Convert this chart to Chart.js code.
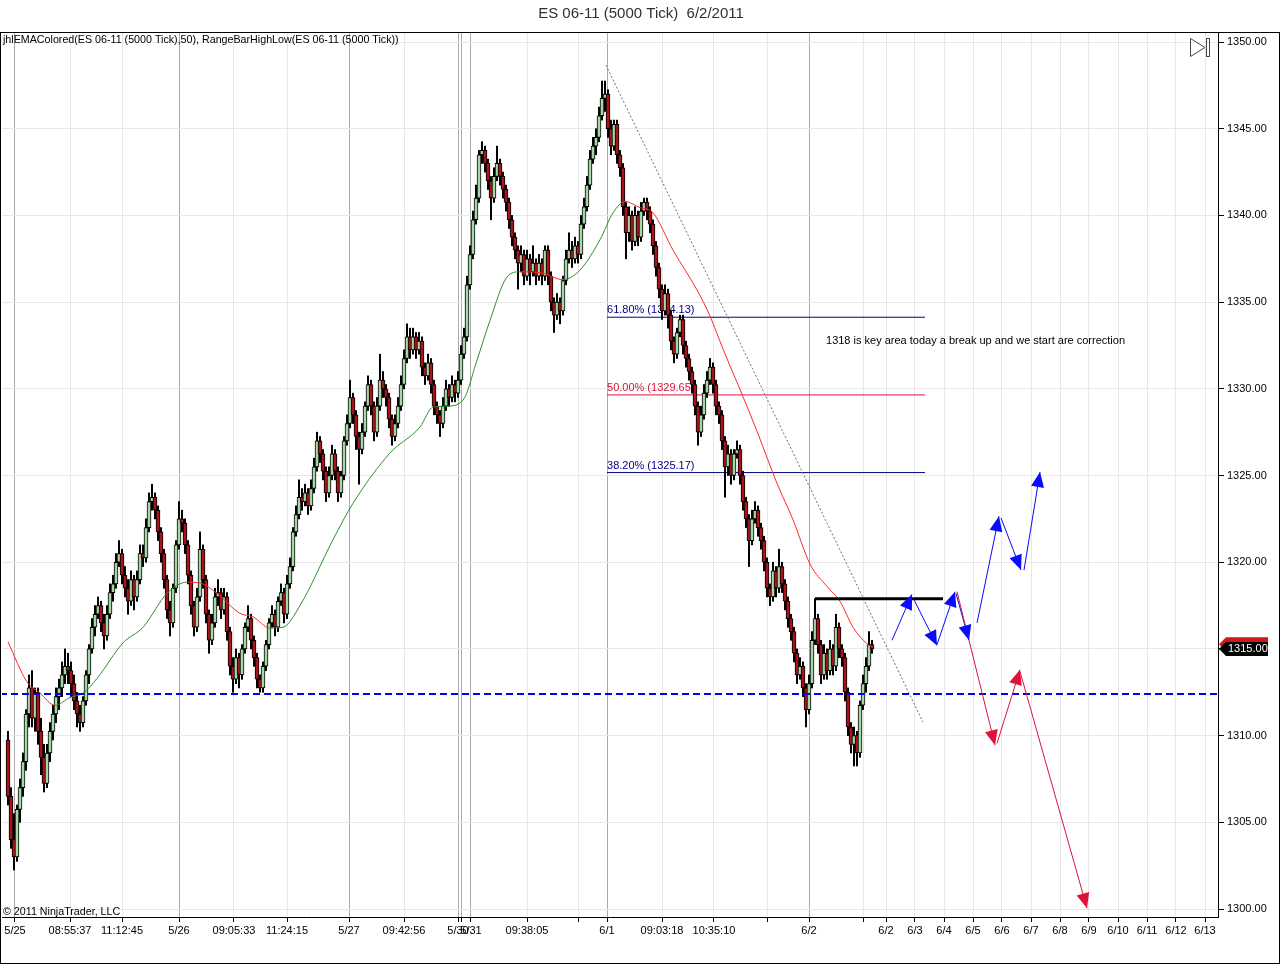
<!DOCTYPE html>
<html><head><meta charset="utf-8">
<script src="https://cdn.jsdelivr.net/npm/chart.js@4.4.1/dist/chart.umd.min.js"></script>
<style>html,body{margin:0;padding:0;background:#fff;}canvas{display:block;}</style>
</head><body>
<canvas id="c" width="1280" height="965"></canvas>
<script>
// ---------- DATA ----------
const opens = [
1309.75,1306.5,1304,1303,1305.75,1307,1308.5,1311.25,1312.75,1311,1312.5,1310.25,1308.75,1307.25,1309,1310.25,1311.25,1312.25,1312.75,1313.5,
1314,1313.75,1313,1312,1311.25,1310.75,1312,1313.5,1315,1316.25,1317,1317.5,1316.5,1315.75,1317,1318.25,1318.75,1320,1320.5,1319.25,
1318.5,1317.75,1319,1318,1319,1320.5,1320.25,1322,1323.5,1323.75,1323,1321.75,1320.5,1319,1317.25,1316.5,1318.5,1321,1322.5,1322.25,
1321,1319.25,1317.5,1316.25,1318,1320.75,1319,1317,1315.5,1316.5,1318,1318.25,1317.25,1318,1316,1314,1313.25,1314.5,1313.5,1315,
1316.25,1316.75,1315.5,1314.5,1313.25,1312.75,1314,1315.25,1316.5,1317,1316.25,1317.75,1318.25,1317,1318.75,1319.75,1321.75,1322.75,1323.75,1323.5,
1324,1323.25,1324.25,1325.5,1327,1326.25,1325.25,1324,1325,1326.25,1325.25,1324,1325,1327,1328,1329.5,1328.5,1327.25,1326.5,1327.5,
1329,1330.25,1329,1327.5,1329,1330.5,1330,1329.5,1328.25,1327.25,1328,1329,1330.25,1331.75,1333,1332.25,1333,1332.25,1332.75,1331.25,
1330.75,1331.5,1330.25,1329,1328.5,1328,1329,1330,1329.5,1330.25,1329.75,1330.5,1332,1333,1336,1337.75,1339.75,1341,1343.5,1343.75,
1343,1342,1341,1342.25,1343,1342.25,1341.5,1340.75,1339.75,1338.75,1338,1337.25,1337.75,1336.5,1337.5,1336.75,1337.25,1336.5,1337.25,1336.5,
1338,1336.5,1335,1334.25,1335,1334.5,1336.25,1337.5,1338,1337.5,1338.25,1337.75,1339.5,1340.5,1341.75,1343.25,1344,1344.5,1345.75,1346.75,
1347,1345,1344,1345.25,1343.5,1342.75,1340.5,1339,1340,1338.5,1340,1338.75,1340.25,1340.75,1340.25,1339.5,1338.25,1337,1335.75,1334.5,
1335.5,1334.25,1332.75,1332,1333.25,1334,1332.5,1331.75,1331,1330.25,1329,1327.5,1328.5,1329.75,1330.5,1331.25,1330.25,1329,1328.5,1327,
1325.5,1326.25,1325,1326.25,1326.5,1325,1323.5,1322.5,1321.25,1322.5,1323,1322,1321.25,1320,1318.5,1318,1319.5,1318.5,1319.75,1318.75,
1317.75,1316.75,1316,1314.75,1313.5,1314,1312.75,1311.5,1313,1315.5,1316.75,1315.25,1313.5,1314.75,1313.75,1315,1314,1316.25,1315,1314.5,
1312.5,1310.5,1309.5,1310,1309,1311.75,1313,1314,1315.25];
const highs = [
1310.25,1307,1305.5,1306,1307.5,1309,1311.5,1313.5,1313.75,1312.75,1312.75,1311,1309.5,1309.5,1310.75,1311.75,1312.75,1313.25,1314.25,1315,
1314.75,1314.25,1313.5,1312.5,1311.75,1312.25,1313.75,1315.25,1316.75,1317.5,1318,1317.75,1317,1317.5,1318.75,1319.25,1320.5,1321.25,1320.75,1319.75,
1319,1319.5,1319.25,1319.5,1321,1321,1322.5,1324,1324.5,1324,1323.25,1322,1320.75,1319.25,1317.75,1318.75,1321.25,1323.5,1323,1322.5,
1321.25,1319.5,1317.75,1318.5,1321.75,1321,1319.25,1317.25,1317,1318.5,1319,1318.5,1318.5,1318.25,1316.25,1314.5,1315,1314.75,1315.25,1316.5,
1317.5,1317,1315.75,1314.75,1313.5,1314.25,1315.5,1316.75,1317.5,1317.25,1318,1318.75,1318.5,1319.25,1320.25,1322,1323.25,1324.75,1324.25,1324.5,
1324.25,1324.75,1326,1327.5,1327.25,1326.5,1325.5,1325.5,1326.75,1326.5,1325.5,1325.25,1327.25,1328.5,1330.5,1329.75,1328.75,1327.5,1328,1329.25,
1330.75,1330.5,1329.25,1329.5,1332,1331,1330.25,1329.75,1328.5,1328.5,1329.5,1330.75,1332.25,1333.75,1333.5,1333.5,1333.25,1333.25,1333,1331.5,
1332,1331.75,1330.5,1329.25,1328.75,1329.5,1330.5,1330.25,1330.75,1330.5,1331,1332.5,1333.5,1336.5,1338.25,1340.25,1341.75,1343.75,1344.25,1344,
1343.25,1342.25,1342.75,1344,1343.25,1342.5,1341.75,1341,1340,1339,1338.25,1338.25,1338,1338,1337.75,1338.25,1337.5,1337.75,1337.5,1338.25,
1338.25,1336.75,1335.25,1335.5,1335.25,1336.5,1338,1339,1338.5,1338.75,1338.5,1340,1341,1342.25,1343.75,1344.5,1345,1346.25,1347.75,1347.75,
1347.25,1345.5,1345.5,1345.5,1343.75,1343,1340.75,1340.5,1340.25,1340.5,1340.25,1340.75,1341,1341,1340.5,1339.75,1338.5,1337.25,1336,1336,
1335.75,1334.5,1333,1333.5,1334.25,1334.25,1332.75,1332,1331.25,1330.5,1329.25,1329,1330.25,1331,1331.75,1331.5,1330.5,1329.25,1328.75,1327.25,
1326.75,1326.5,1326.5,1327,1326.75,1325.25,1323.75,1322.75,1323,1323.5,1323.25,1322.25,1321.5,1320.25,1318.75,1320,1319.75,1320.75,1320,1319,
1318,1317,1316.25,1315,1314.5,1314.25,1313,1313.5,1316,1317.9,1317,1315.5,1315.25,1315,1315.5,1315.25,1317,1316.5,1315.25,1314.75,
1312.75,1310.75,1310.5,1310.25,1312,1313.5,1314.5,1316,1315.5];
const lows = [
1306,1303.5,1302.25,1302.75,1305,1306.5,1308,1310.5,1310.5,1310.25,1309.5,1307.75,1306.75,1307,1308.5,1309.75,1310.75,1311.5,1312.25,1313,
1313,1312.25,1311.5,1310.5,1310.25,1310.5,1311.75,1313,1314.75,1315.75,1316.75,1316,1315,1315.5,1316.75,1317.75,1318.5,1319.75,1318.75,1318,
1317,1317.5,1317.25,1317.75,1318.75,1319.75,1320,1321.75,1323,1322.5,1321.25,1320,1318.5,1316.75,1315.75,1316.25,1318.25,1320.75,1321.75,1320.5,
1318.75,1317,1315.75,1316,1317.75,1318.5,1316.5,1314.75,1315.25,1316.25,1317.5,1316.75,1317,1315.5,1313.5,1312.5,1313,1312.75,1313.25,1314.75,
1316,1315,1314,1312.75,1312.5,1312.5,1313.75,1315,1316.25,1315.75,1316,1317.5,1316.5,1316.75,1318.5,1319.5,1321.5,1322.5,1323,1323.25,
1322.75,1323,1324,1325.25,1325.75,1324.75,1323.5,1323.75,1324.75,1324.75,1323.5,1323.75,1324.75,1326.75,1327.75,1328,1326.5,1324.5,1326.25,1327.25,
1328.75,1328.5,1327,1327.25,1328.75,1329.5,1329,1327.75,1326.75,1327,1327.75,1328.75,1330,1331.5,1331.75,1332,1331.75,1332,1330.75,1330.25,
1330.5,1329.75,1328.5,1328,1327.25,1327.75,1328.75,1329,1329.25,1329.25,1329.5,1330.25,1331.75,1332.75,1335.75,1337.5,1339.5,1340.75,1343,1342.5,
1341.5,1339.75,1340.75,1342,1341.75,1341,1340.25,1339.25,1338.25,1337.5,1335.75,1336.75,1336,1336.25,1336,1336.5,1336,1336.25,1336,1336.25,
1336,1334.5,1333.25,1334,1333.75,1334.25,1336,1337.25,1337,1337.25,1337.25,1337.5,1339.25,1340.25,1341.5,1343,1343.5,1344.25,1345.5,1346,
1344.5,1343.5,1343.75,1343,1342.25,1340,1337.5,1338.5,1338,1338.25,1338.25,1338.5,1340,1339.75,1339,1337.75,1336.5,1335.25,1334,1334.25,
1333.5,1332.25,1331.5,1331.75,1333,1332,1331.25,1330.5,1329.75,1328.5,1326.75,1327.25,1328.25,1329.5,1330.25,1329.75,1328.5,1328,1326.5,1323.75,
1325,1324.5,1324.75,1326,1324.5,1323,1322,1319.75,1321,1322.25,1321.5,1320.75,1319.5,1318,1317.5,1317.75,1318,1318.25,1318.25,1317.25,
1316.25,1315.5,1314.25,1313,1313.25,1312.25,1310.5,1311.25,1312.75,1315.25,1314.75,1313,1313.25,1313.25,1313.5,1313.5,1313.75,1314.5,1314,1312,
1310,1309,1308.25,1308.25,1308.75,1311.5,1312.5,1313.75,1314.75];
const closes = [
1306.5,1304,1303,1305.75,1307,1308.5,1311.25,1312.75,1311,1312.5,1310.25,1308.75,1307.25,1309,1310.25,1311.25,1312.25,1312.75,1313.5,1314,
1313.75,1313,1312,1311.25,1310.75,1312,1313.5,1315,1316.25,1317,1317.5,1316.5,1315.75,1317,1318.25,1318.75,1320,1320.5,1319.25,1318.5,
1317.75,1319,1318,1319,1320.5,1320.25,1322,1323.5,1323.75,1323,1321.75,1320.5,1319,1317.25,1316.5,1318.5,1321,1322.5,1322.25,1321,
1319.25,1317.5,1316.25,1318,1320.75,1319,1317,1315.5,1316.5,1318,1318.25,1317.25,1318,1316,1314,1313.25,1314.5,1313.5,1315,1316.25,
1316.75,1315.5,1314.5,1313.25,1312.75,1314,1315.25,1316.5,1317,1316.25,1317.75,1318.25,1317,1318.75,1319.75,1321.75,1322.75,1323.75,1323.5,1324,
1323.25,1324.25,1325.5,1327,1326.25,1325.25,1324,1325,1326.25,1325.25,1324,1325,1327,1328,1329.5,1328.5,1327.25,1326.5,1327.5,1329,
1330.25,1329,1327.5,1329,1330.5,1330,1329.5,1328.25,1327.25,1328,1329,1330.25,1331.75,1333,1332.25,1333,1332.25,1332.75,1331.25,1330.75,
1331.5,1330.25,1329,1328.5,1328,1329,1330,1329.5,1330.25,1329.75,1330.5,1332,1333,1336,1337.75,1339.75,1341,1343.5,1343.75,1343,
1342,1341,1342.25,1343,1342.25,1341.5,1340.75,1339.75,1338.75,1338,1337.25,1337.75,1336.5,1337.5,1336.75,1337.25,1336.5,1337.25,1336.5,1338,
1336.5,1335,1334.25,1335,1334.5,1336.25,1337.5,1338,1337.5,1338.25,1337.75,1339.5,1340.5,1341.75,1343.25,1344,1344.5,1345.75,1346.75,1347,
1345,1344,1345.25,1343.5,1342.75,1340.5,1339,1340,1338.5,1340,1338.75,1340.25,1340.75,1340.25,1339.5,1338.25,1337,1335.75,1334.5,1335.5,
1334.25,1332.75,1332,1333.25,1334,1332.5,1331.75,1331,1330.25,1329,1327.5,1328.5,1329.75,1330.5,1331.25,1330.25,1329,1328.5,1327,1325.5,
1326.25,1325,1326.25,1326.5,1325,1323.5,1322.5,1321.25,1322.5,1323,1322,1321.25,1320,1318.5,1318,1319.5,1318.5,1319.75,1318.75,1317.75,
1316.75,1316,1314.75,1313.5,1314,1312.75,1311.5,1313,1315.5,1316.75,1315.25,1313.5,1314.75,1313.75,1315,1314,1316.25,1315,1314.5,1312.5,
1310.5,1309.5,1310,1309,1311.75,1313,1314,1315.25,1315];

// EMA(50) (bar index, price)
const emaX = [0,6.33,10.67,15.67,20.67,25,29.67,38.33,45,53,59.67,64,69.67,77.33,81.67,87.33,91.67,97.33,108.33,115,127.33,137.33,141.67,146.33,151.67,156.33,160.67,166.33,170.67,177.33,185,190.67,197.33,201.67,205.67,210.67,215,221.67,229.67,234,238.33,245,249.67,256.33,261.67,267.33,273,277.33,281.67,286.33,288.33];
const emaY = [1315.4,1313.1,1312.45,1311.75,1312.2,1312.45,1313.3,1315.35,1316.25,1318.2,1318.85,1318.8,1318.2,1317.05,1316.85,1316.2,1316.25,1317.5,1321.3,1323.4,1326.3,1327.8,1328.95,1329,1329.35,1331.65,1333.95,1336.45,1336.75,1336.7,1336.3,1336.85,1338.6,1340.15,1340.8,1340.45,1340.15,1338,1335.7,1334.2,1332.3,1329.55,1327.55,1324.55,1322.45,1319.9,1318.6,1317.75,1316.25,1315.3,1315.1];

// X axis ticks (bar-index positions) and labels
const xTickPos = [2.33,20.67,38,57,75.33,93,113.67,132,150,151,154.33,173,190.33,199.67,218,235.33,253,267,285.33,292.67,302.33,312,321.67,331.33,341,350.67,360.33,370,379.67,389.33,399];
const xTickLabels = ['5/25','08:55:37','11:12:45','5/26','09:05:33','11:24:15','5/27','09:42:56','5/30','','5/31','09:38:05','','6/1','09:03:18','10:35:10','','6/2','','6/2','6/3','6/4','6/5','6/6','6/7','6/8','6/9','6/10','6/11','6/12','6/13'];
const xTickSession = [1,0,0,1,0,0,1,0,1,1,1,0,0,1,0,0,0,1,0,0,0,0,0,0,0,0,0,0,0,0,0];
const yTicks = [1300,1305,1310,1315,1320,1325,1330,1335,1340,1345,1350];

// Drawing objects
const fibLevels = [1334.13, 1329.65, 1325.17];
const fibNames = ['61.80%', '50.00%', '38.20%'];
const fibRange = [199.67, 305.67];
const trendX = [199.33, 305];
const trendY = [1348.67, 1310.78];
const keyLineX = [269, 311.67];
const keyLineY = 1317.9;
const supportY = 1312.4;
const noteText = '1318 is key area today a break up and we start are correction';
const notePos = [272.67, 1332.75];
const bullArrows = [[294.67,1315.5,301.33,1318.15],[301.67,1317.95,309.67,1315.2],[309.67,1315.25,315.67,1318.3],[316,1318.2,320.33,1315.5],[323,1316.5,330.33,1322.65],[331,1322.55,337.67,1319.55],[338.67,1319.55,344,1325.2]];
const bearArrows = [[316.33,1318.3,329,1309.45],[329.67,1309.55,337.33,1313.8],[337.33,1313.7,359.67,1300.05]];

// ---------- CHART ----------
const FONT = '"Liberation Sans", Arial, sans-serif';
Chart.defaults.font.family = FONT;
const GREEN = '#a6d8a6', RED = '#a8141c';
const n = Math.min(opens.length, highs.length, lows.length, closes.length);
const idx = Array.from({length: n}, (_, i) => i);

const datasets = [];
bullArrows.forEach(a => datasets.push({type:'line', arrow:true, data:[{x:a[0],y:a[1]},{x:a[2],y:a[3]}], borderColor:'#0a0aff', borderWidth:1, pointRadius:0, order:1}));
bearArrows.forEach(a => datasets.push({type:'line', arrow:true, data:[{x:a[0],y:a[1]},{x:a[2],y:a[3]}], borderColor:'#dc143c', borderWidth:1, pointRadius:0, order:0}));
datasets.push({type:'line', data:[{x:keyLineX[0],y:keyLineY},{x:keyLineX[1],y:keyLineY}], borderColor:'#000', borderWidth:3, pointRadius:0, order:2});
datasets.push({type:'line', data:[{x:-10,y:supportY},{x:420,y:supportY}], borderColor:'#0000ff', borderWidth:2, borderDash:[7,4], pointRadius:0, order:3});
datasets.push({type:'line', data: emaX.map((x,i)=>({x, y: emaY[i]})), borderWidth:1, pointRadius:0, cubicInterpolationMode:'monotone',
  segment:{borderColor: c => c.p1.parsed.y < c.p0.parsed.y ? '#ff2a2a' : '#2f8f2f'}, borderColor:'#2f8f2f', order:4});
datasets.push({type:'bar', data: idx.map(i => ({x:i, y:[opens[i], closes[i]]})),
  backgroundColor: idx.map(i => closes[i] >= opens[i] ? GREEN : RED), borderColor:'#000', borderWidth:1, borderSkipped:false,
  barThickness:4, grouped:false, order:5});
datasets.push({type:'bar', data: idx.map(i => ({x:i, y:[lows[i], highs[i]]})), backgroundColor:'#000', barThickness:1.4, grouped:false, order:6});
datasets.push({type:'line', data:[{x:trendX[0],y:trendY[0]},{x:trendX[1],y:trendY[1]}], borderColor:'#6e6e6e', borderWidth:1, borderDash:[2,2], pointRadius:0, order:7});
fibLevels.forEach((lv, k) => datasets.push({type:'line', data:[{x:fibRange[0],y:lv},{x:fibRange[1],y:lv}], borderColor: k===1 ? '#dc143c' : '#000080', borderWidth:1, pointRadius:0, order:8}));

const decor = {
  id: 'decor',
  beforeDraw(chart) {
    const ctx = chart.ctx;
    ctx.save(); ctx.fillStyle = '#fff'; ctx.fillRect(0, 0, chart.width, chart.height); ctx.restore();
  },
  beforeDatasetsDraw(chart) {
    const {ctx, scales:{x, y}} = chart;
    ctx.save();
    ctx.font = '11px ' + FONT; ctx.textBaseline = 'middle'; ctx.textAlign = 'left';
    fibLevels.forEach((lv, k) => {
      ctx.fillStyle = k === 1 ? '#dc143c' : '#000080';
      ctx.fillText(fibNames[k] + ' (' + lv.toFixed(2) + ')', x.getPixelForValue(fibRange[0]), y.getPixelForValue(lv) - 7);
    });
    ctx.fillStyle = '#000';
    ctx.fillText(noteText, x.getPixelForValue(notePos[0]), y.getPixelForValue(notePos[1]));
    ctx.restore();
  },
  afterDatasetsDraw(chart) {
    const ctx = chart.ctx;
    ctx.save();
    chart.data.datasets.forEach((ds, di) => {
      if (!ds.arrow) return;
      const pts = chart.getDatasetMeta(di).data;
      const p0 = pts[0], p1 = pts[1];
      const dx = p1.x - p0.x, dy = p1.y - p0.y, len = Math.hypot(dx, dy) || 1;
      const ux = dx / len, uy = dy / len, L = 15, W = 6.5;
      ctx.beginPath();
      ctx.moveTo(p1.x, p1.y);
      ctx.lineTo(p1.x - ux * L - uy * W, p1.y - uy * L + ux * W);
      ctx.lineTo(p1.x - ux * L + uy * W, p1.y - uy * L - ux * W);
      ctx.closePath();
      ctx.fillStyle = ds.borderColor; ctx.fill();
    });
    ctx.restore();
  },
  afterDraw(chart) {
    const {ctx, chartArea:a, scales:{y}} = chart;
    ctx.save();
    ctx.strokeStyle = '#000'; ctx.lineWidth = 1;
    ctx.strokeRect(0.5, a.top + 0.5, chart.width - 1, chart.height - a.top - 2);
    ctx.beginPath(); ctx.moveTo(0, a.top + 0.5); ctx.lineTo(chart.width, a.top + 0.5); ctx.stroke();
    ctx.font = '10.7px ' + FONT; ctx.fillStyle = '#000'; ctx.textBaseline = 'middle'; ctx.textAlign = 'left';
    ctx.fillText('jhlEMAColored(ES 06-11 (5000 Tick),50), RangeBarHighLow(ES 06-11 (5000 Tick))', a.left + 1, a.top + 8);
    ctx.fillText('\u00A9 2011 NinjaTrader, LLC', a.left + 1, a.bottom - 5);
    ctx.strokeStyle = '#444';
    ctx.beginPath(); ctx.moveTo(1190.5, 38.5); ctx.lineTo(1190.5, 56.5); ctx.lineTo(1205, 47.5); ctx.closePath(); ctx.stroke();
    ctx.strokeRect(1206.5, 38.5, 3, 18);
    ctx.font = '11px ' + FONT;
    const tag = (py, col, txt) => {
      ctx.beginPath();
      ctx.moveTo(a.right + 1, py); ctx.lineTo(a.right + 8, py - 7); ctx.lineTo(1268, py - 7);
      ctx.lineTo(1268, py + 7); ctx.lineTo(a.right + 8, py + 7); ctx.closePath();
      ctx.fillStyle = col; ctx.fill();
      if (txt) { ctx.fillStyle = '#fff'; ctx.fillText(txt, a.right + 10, py + 0.5); }
    };
    tag(y.getPixelForValue(emaY[emaY.length - 1]) - 3, '#d01818', '');
    tag(y.getPixelForValue(closes[n - 1]), '#000', closes[n - 1].toFixed(2));
    ctx.restore();
  }
};

new Chart(document.getElementById('c'), {
  type: 'bar',
  data: { datasets },
  options: {
    responsive: false, animation: false, events: [],
    layout: { padding: { left: 2, right: 0, top: 0, bottom: 0 } },
    plugins: {
      legend: { display: false }, tooltip: { enabled: false },
      title: { display: true, text: 'ES 06-11 (5000 Tick)  6/2/2011', color: '#303030',
        font: { family: FONT, size: 15, weight: 'normal' }, padding: { top: 5, bottom: 9 } }
    },
    scales: {
      x: {
        type: 'linear', position: 'bottom', min: -2, max: 403.3333, offset: false,
        afterBuildTicks: s => { s.ticks = xTickPos.map(v => ({ value: v })); },
        afterFit: s => { s.height = 48; },
        ticks: { autoSkip: false, maxRotation: 0, minRotation: 0, padding: 2, color: '#000',
          font: { size: 11 }, callback: (v, i) => xTickLabels[i] },
        grid: { offset: false, color: c => xTickSession[c.index] ? '#ababab' : '#e8e8e8', tickColor: '#000', tickLength: 5 },
        border: { color: '#000', width: 1 }
      },
      y: {
        type: 'linear', position: 'right', min: 1299.54, max: 1350.58,
        afterBuildTicks: s => { s.ticks = yTicks.map(v => ({ value: v })); },
        afterFit: s => { s.width = 62; },
        ticks: { padding: 3, color: '#000', font: { size: 11 }, callback: v => Number(v).toFixed(2) },
        grid: { color: '#e8e8e8', tickColor: '#000', tickLength: 6 },
        border: { color: '#000', width: 1 }
      }
    }
  },
  plugins: [decor]
});
</script>
</body></html>
